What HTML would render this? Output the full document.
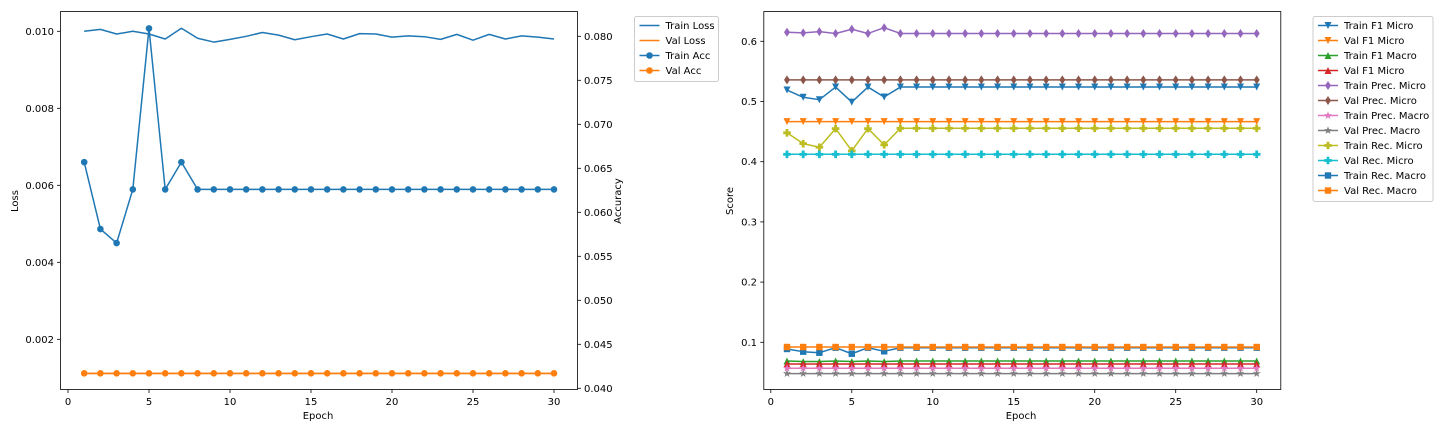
<!DOCTYPE html>
<html><head><meta charset="utf-8"><style>
html,body{margin:0;padding:0;background:#fff;width:1440px;height:432px;overflow:hidden}
svg text{font-family:"DejaVu Sans","Liberation Sans",sans-serif;font-size:10px;fill:#000}
</style></head><body>
<svg id="c" width="1440" height="432"></svg>
<script>
const epochs=[1,2,3,4,5,6,7,8,9,10,11,12,13,14,15,16,17,18,19,20,21,22,23,24,25,26,27,28,29,30];
const trainLoss=[0.0100,0.01005,0.00993,0.0100,0.00993,0.0098,0.01008,0.00982,0.00972,0.00979,0.00987,0.00997,0.0099,0.00978,0.00986,0.00993,0.0098,0.00994,0.00993,0.00985,0.00988,0.00986,0.00979,0.00992,0.00977,0.00992,0.0098,0.00988,0.00985,0.0098];
const valLoss=Array(30).fill(0.00111);
const trainAcc=[0.0657,0.0581,0.0565,0.0626,0.0809,0.0626,0.0657].concat(Array(23).fill(0.0626));
const valAcc=Array(30).fill(0.0417);
const lossTicks=[0.002,0.004,0.006,0.008,0.010];
const accTicks=[0.040,0.045,0.050,0.055,0.060,0.065,0.070,0.075,0.080];
const epochTicks=[0,5,10,15,20,25,30];
const scoreTicks=[0.1,0.2,0.3,0.4,0.5,0.6];
const trainF1Micro=[0.519,0.507,0.503,0.524,0.499,0.524,0.5075].concat(Array(23).fill(0.524));
const valF1Micro=Array(30).fill(0.4666);
const trainF1Macro=[0.069,0.068,0.068,0.069,0.068,0.069,0.068].concat(Array(23).fill(0.069));
const valF1Micro2=Array(30).fill(0.0639);
const trainPrecMicro=[0.615,0.614,0.616,0.613,0.620,0.613,0.6226].concat(Array(23).fill(0.613));
const valPrecMicro=Array(30).fill(0.536);
const trainPrecMacro=Array(30).fill(0.0568);
const valPrecMacro=Array(30).fill(0.048);
const trainRecMicro=[0.448,0.430,0.424,0.455,0.418,0.455,0.428].concat(Array(23).fill(0.4555));
const valRecMicro=Array(30).fill(0.4123);
const trainRecMacro=[0.0889,0.0844,0.0827,0.091,0.081,0.091,0.085].concat(Array(23).fill(0.091));
const valRecMacro=Array(30).fill(0.0922);

const NS="http://www.w3.org/2000/svg";
const svg=document.getElementById('c');
function el(tag,attrs,parent){const e=document.createElementNS(NS,tag);for(const k in attrs)e.setAttribute(k,attrs[k]);(parent||svg).appendChild(e);return e;}
function txt(s,x,y,anchor,parent,rot){const t=el('text',{x:x,y:y,'text-anchor':anchor||'middle'},parent);if(rot)t.setAttribute('transform','rotate(-90 '+x+' '+y+')');t.textContent=s;return t;}

function marker(g,type,x,y,c){
  let m;const r=3.5;
  if(type==='o')m=el('circle',{cx:x,cy:y,r:3.3,fill:c},g);
  else if(type==='v')m=el('polygon',{points:`${x-r},${y-r} ${x+r},${y-r} ${x},${y+r}`,fill:c},g);
  else if(type==='^')m=el('polygon',{points:`${x-r},${y+r} ${x+r},${y+r} ${x},${y-r}`,fill:c},g);
  else if(type==='d')m=el('polygon',{points:`${x},${y-4.5} ${x+3},${y} ${x},${y+4.5} ${x-3},${y}`,fill:c},g);
  else if(type==='s')m=el('rect',{x:x-3.2,y:y-3.2,width:6.4,height:6.4,fill:c},g);
  else if(type==='P'){const a=1.4,b=3.8;m=el('polygon',{points:`${x-a},${y-b} ${x+a},${y-b} ${x+a},${y-a} ${x+b},${y-a} ${x+b},${y+a} ${x+a},${y+a} ${x+a},${y+b} ${x-a},${y+b} ${x-a},${y+a} ${x-b},${y+a} ${x-b},${y-a} ${x-a},${y-a}`,fill:c},g);}
  else if(type==='*'){let p=[];for(let i=0;i<10;i++){const rr=i%2?1.7:4.2;const an=-Math.PI/2+i*Math.PI/5;p.push((x+rr*Math.cos(an)).toFixed(2)+','+(y+rr*Math.sin(an)).toFixed(2));}m=el('polygon',{points:p.join(' '),fill:c},g);}
  
  
}
function series(g,xs,ys,xf,yf,c,mk,name){
  const sg=el('g',{},g);
  
  
  el('polyline',{points:xs.map((x,i)=>xf(x).toFixed(2)+','+yf(ys[i]).toFixed(2)).join(' '),fill:'none',stroke:c,'stroke-width':1.5,'stroke-linejoin':'round'},sg);
  if(mk)xs.forEach((x,i)=>marker(sg,mk,xf(x),yf(ys[i]),c));
}
function legend(x,y,w,items){
  const g=el('g',{});
  
  
  el('rect',{x:x,y:y,width:w,height:items.length*15+5,fill:'#fff',stroke:'#ccc','stroke-width':1,rx:2},g);
  items.forEach((it,i)=>{
    const e=el('g',{},g);
    
    
    const cy=y+9+i*15;
    el('line',{x1:x+5,y1:cy,x2:x+25,y2:cy,stroke:it[1],'stroke-width':1.5},e);
    if(it[2])marker(e,it[2],x+15,cy,it[1]);
    txt(it[0],x+31,cy+3.5,'start',e);
  });
}
const C=['#1f77b4','#ff7f0e','#2ca02c','#d62728','#9467bd','#8c564b','#e377c2','#7f7f7f','#bcbd22','#17becf'];

const lx=e=>68+(e/30)*(554-68);
const ly=v=>339.3-(v-0.002)*38500;
const ay=v=>388.3-(v-0.040)*8800;
const L=el('g',{});
series(L,epochs,trainLoss,lx,ly,C[0],null,'train-loss-line');
series(L,epochs,valLoss,lx,ly,C[1],null,'val-loss-line');
series(L,epochs,trainAcc,lx,ay,C[0],'o','train-acc-line');
series(L,epochs,valAcc,lx,ay,C[1],'o','val-acc-line');
el('rect',{x:60.5,y:11.5,width:517,height:378,fill:'none',stroke:'#000','stroke-width':0.8},L);
epochTicks.forEach(t=>{el('line',{x1:lx(t),y1:389.5,x2:lx(t),y2:393,stroke:'#000','stroke-width':0.8},L);txt(String(t),lx(t),405,'middle',L);});
lossTicks.forEach(t=>{el('line',{x1:57,y1:ly(t),x2:60.5,y2:ly(t),stroke:'#000','stroke-width':0.8},L);txt(t.toFixed(3),54,ly(t)+3.5,'end',L);});
accTicks.forEach(t=>{el('line',{x1:577.5,y1:ay(t),x2:581,y2:ay(t),stroke:'#000','stroke-width':0.8},L);txt(t.toFixed(3),584,ay(t)+3.5,'start',L);});
txt('Epoch',318,419,'middle',L);
txt('Loss',18,201,'middle',L,true);
txt('Accuracy',621,201,'middle',L,true);
legend(634.5,16.5,84,[['Train Loss',C[0],null],['Val Loss',C[1],null],['Train Acc',C[0],'o'],['Val Acc',C[1],'o']]);

const rx=e=>770.8+(e/30)*(1256.7-770.8);
const ry=v=>342.3-(v-0.1)*602;
const R=el('g',{});
const rs=[['Train F1 Micro',trainF1Micro,C[0],'v'],['Val F1 Micro',valF1Micro,C[1],'v'],['Train F1 Macro',trainF1Macro,C[2],'^'],['Val F1 Micro',valF1Micro2,C[3],'^'],['Train Prec. Micro',trainPrecMicro,C[4],'d'],['Val Prec. Micro',valPrecMicro,C[5],'d'],['Train Prec. Macro',trainPrecMacro,C[6],'*'],['Val Prec. Macro',valPrecMacro,C[7],'*'],['Train Rec. Micro',trainRecMicro,C[8],'P'],['Val Rec. Micro',valRecMicro,C[9],'P'],['Train Rec. Macro',trainRecMacro,C[0],'s'],['Val Rec. Macro',valRecMacro,C[1],'s']];
rs.forEach(s=>series(R,epochs,s[1],rx,ry,s[2],s[3],s[0].toLowerCase().replace(/[^a-z0-9]+/g,'-')+'line'));
el('rect',{x:763.8,y:11.5,width:517,height:378,fill:'none',stroke:'#000','stroke-width':0.8},R);
epochTicks.forEach(t=>{el('line',{x1:rx(t),y1:389.5,x2:rx(t),y2:393,stroke:'#000','stroke-width':0.8},R);txt(String(t),rx(t),405,'middle',R);});
scoreTicks.forEach(t=>{el('line',{x1:760.3,y1:ry(t),x2:763.8,y2:ry(t),stroke:'#000','stroke-width':0.8},R);txt(t.toFixed(1),757,ry(t)+3.5,'end',R);});
txt('Epoch',1021,419,'middle',R);
txt('Score',733,201,'middle',R,true);
legend(1313,16.5,120,rs.map(s=>[s[0],s[2],s[3]]));
</script>
</body></html>
